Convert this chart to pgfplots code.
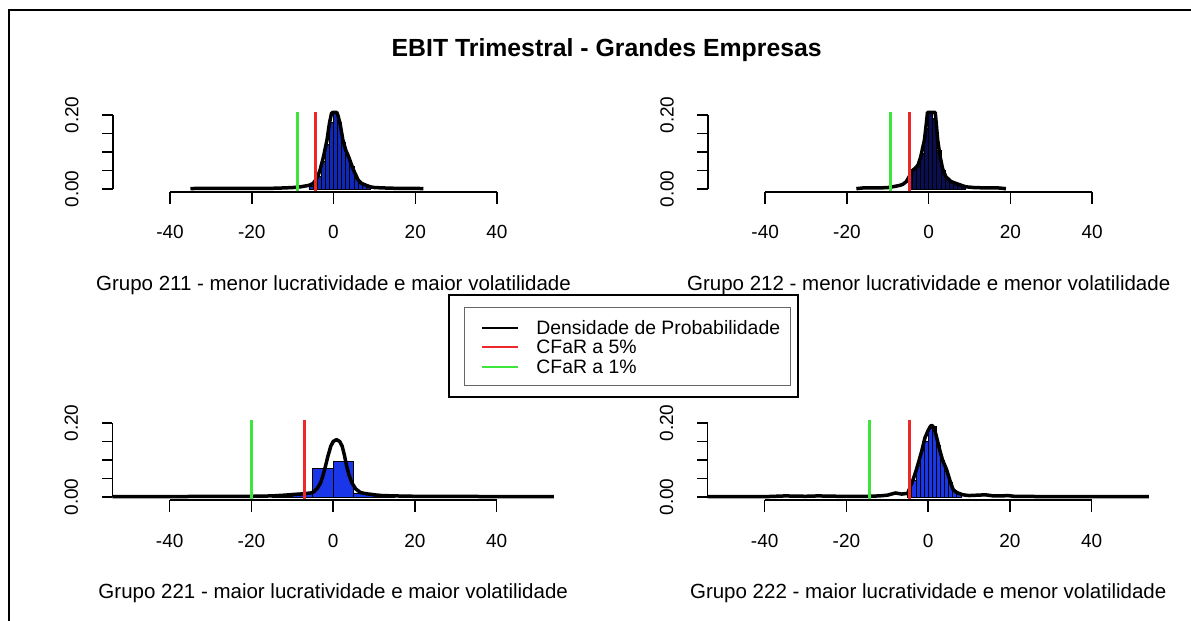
\documentclass[border=0pt]{standalone}
\usepackage{fontspec}
\setmainfont{Liberation Sans}
\usepackage{pgfplots}
\pgfplotsset{compat=1.18}
\definecolor{rred}{RGB}{238,40,40}
\definecolor{rgreen}{RGB}{60,230,60}
\definecolor{hblue}{RGB}{25,55,232}
\definecolor{hdark}{RGB}{15,40,185}
\definecolor{hnavy}{RGB}{8,14,80}
\tikzset{
  raxis/.style={line width=0.75bp, black},
  rtick/.style={font=\fontsize{9.5bp}{11bp}\selectfont, inner sep=0pt, anchor=base},
}
\pgfplotsset{
  rpanel/.style={
    scale only axis, width=220.7bp, height=40bp,
    xmin=-54, xmax=54, ymin=-0.008, ymax=0.208,
    axis lines=none, clip=false,
  },
  dens/.style={black, line width=1.75bp, line join=round, no marks},
  hist/.style={ybar interval, draw=black, line width=0.4bp},
  cfar/.style={line width=1.5bp, no marks},
}
% eixos no estilo R: x de -40 a 40, y de 0 a 0.2
\newcommand{\raxes}[1]{%
  \draw[raxis] (axis cs:-40,-0.008) -- (axis cs:40,-0.008);
  \pgfplotsinvokeforeach{-40,-20,0,20,40}{%
    \draw[raxis] (axis cs:##1,-0.008) -- ([yshift=-6bp]axis cs:##1,-0.008);
    \node[rtick] at ([yshift=-23.5bp]axis cs:##1,-0.008) {##1};
  }
  \draw[raxis] (axis cs:-54,0) -- (axis cs:-54,0.2);
  \pgfplotsinvokeforeach{0,0.05,0.1,0.15,0.2}{%
    \draw[raxis] (axis cs:-54,##1) -- ([xshift=-5.35bp]axis cs:-54,##1);
  }
  \node[rtick, rotate=90] at ([xshift=-17.25bp]axis cs:-54,0) {0.00};
  \node[rtick, rotate=90] at ([xshift=-17.25bp]axis cs:-54,0.2) {0.20};
  \node[font=\fontsize{10.25bp}{12bp}\selectfont, inner sep=0pt, anchor=base]
    at ([yshift=-49.35bp]axis cs:0,-0.008) {#1};
}
\begin{document}
\begin{tikzpicture}
\path[use as bounding box] (0,0) rectangle (595.5bp,310.5bp);
\draw[line width=1bp] (595.5bp,305.5bp) -- (4.5bp,305.5bp) -- (4.5bp,0);
\node[font=\fontsize{12.4bp}{14bp}\selectfont\bfseries, inner sep=0pt, anchor=base]
  at (303.35bp,282.15bp) {EBIT Trimestral - Grandes Empresas};

% Grupo 211
\begin{axis}[rpanel, at={(56.4bp,214.5bp)}, anchor=south west]
\addplot[hist, fill=hdark] coordinates {(-6,0.008)(-5,0.013)(-4,0.035)(-3,0.075)(-2,0.120)(-1,0.180)(0,0.207)(1,0.180)(2,0.125)(3,0.090)(4,0.060)(5,0.030)(6,0.016)(7,0.009)(8,0.005)(9,0)};
\addplot[dens] coordinates {(-35,0.001)(-33,0.002)(-30,0.002)(-25,0.002)(-20,0.002)(-15,0.002)(-12,0.003)(-10,0.004)(-8,0.006)(-6,0.010)(-5,0.015)(-4,0.030)(-3.3,0.051)(-2.5,0.085)(-1.6,0.132)(-1,0.177)(-0.5,0.204)(-0.2,0.207)(0.8,0.207)(1.1,0.198)(1.6,0.177)(2.3,0.132)(3,0.105)(3.7,0.087)(4.9,0.051)(6,0.025)(6.9,0.015)(8,0.010)(9,0.006)(10,0.004)(12,0.003)(15,0.002)(18,0.002)(20,0.002)(22,0.001)};
\addplot[cfar, rgreen] coordinates {(-8.8,-0.008)(-8.8,0.208)};
\addplot[cfar, rred] coordinates {(-4.3,-0.008)(-4.3,0.208)};
\raxes{Grupo 211 - menor lucratividade e maior volatilidade}
\end{axis}

% Grupo 212
\begin{axis}[rpanel, at={(354bp,214.5bp)}, anchor=south west]
\addplot[hist, fill=hnavy] coordinates {(-5,0.040)(-4,0.054)(-3,0.062)(-2,0.095)(-1,0.165)(0,0.207)(1,0.190)(2,0.105)(3,0.050)(4,0.030)(5,0.020)(6,0.014)(7,0.010)(8,0.006)(9,0)};
\addplot[dens] coordinates {(-17.7,0.001)(-16,0.003)(-14,0.003)(-12,0.003)(-10,0.004)(-8.8,0.006)(-7,0.010)(-6.3,0.013)(-5.5,0.020)(-4.7,0.035)(-4,0.050)(-3.3,0.056)(-2.6,0.065)(-2,0.085)(-1.5,0.110)(-1.05,0.132)(-0.6,0.175)(-0.3,0.207)(1.6,0.207)(1.9,0.170)(2.2,0.132)(2.8,0.087)(3.4,0.055)(4.2,0.033)(5.5,0.020)(6.7,0.015)(8,0.010)(9.1,0.006)(11,0.004)(14,0.003)(17,0.003)(18.9,0.001)};
\addplot[cfar, rgreen] coordinates {(-9.4,-0.008)(-9.4,0.208)};
\addplot[cfar, rred] coordinates {(-4.6,-0.008)(-4.6,0.208)};
\raxes{Grupo 212 - menor lucratividade e menor volatilidade}
\end{axis}

% Grupo 221
\begin{axis}[rpanel, at={(56.25bp,60.5bp)}, anchor=south west]
\addplot[hist, fill=hblue] coordinates {(-15,0.002)(-10,0.011)(-5,0.077)(0,0.096)(5,0.011)(10,0.002)(15,0)};
\addplot[dens] coordinates {(-54,0.001)(-40,0.001)(-30,0.002)(-20,0.002)(-15,0.003)(-12,0.005)(-9.5,0.007)(-7,0.009)(-5.5,0.011)(-4.7,0.014)(-3.8,0.025)(-3.1,0.038)(-2.5,0.058)(-1.9,0.083)(-1.3,0.110)(-0.6,0.137)(0,0.150)(0.8,0.155)(1.6,0.150)(2.2,0.137)(2.7,0.115)(3.3,0.083)(3.9,0.058)(4.6,0.038)(5.5,0.022)(6.7,0.012)(8,0.009)(10,0.006)(12,0.004)(15,0.003)(20,0.002)(30,0.002)(40,0.001)(54,0.001)};
\addplot[cfar, rgreen] coordinates {(-20,-0.008)(-20,0.208)};
\addplot[cfar, rred] coordinates {(-7.1,-0.008)(-7.1,0.208)};
\raxes{Grupo 221 - maior lucratividade e maior volatilidade}
\end{axis}

% Grupo 222
\begin{axis}[rpanel, at={(353.75bp,60.5bp)}, anchor=south west]
\addplot[hist, fill=hblue] coordinates {(-5,0.010)(-4,0.045)(-3,0.085)(-2,0.125)(-1,0.150)(0,0.185)(1,0.190)(2,0.140)(3,0.100)(4,0.070)(5,0.040)(6,0.018)(7,0.008)(8,0)};
\addplot[dens] coordinates {(-54,0.001)(-45,0.001)(-40,0.001)(-35,0.003)(-30,0.002)(-27,0.003)(-22,0.002)(-18,0.002)(-15,0.002)(-12,0.003)(-10,0.005)(-8,0.011)(-6.5,0.008)(-5,0.010)(-4.5,0.025)(-3.7,0.047)(-3,0.070)(-2.2,0.100)(-1.5,0.128)(-0.8,0.160)(0,0.180)(0.6,0.192)(1.0,0.193)(1.5,0.185)(2.2,0.155)(2.8,0.128)(3.5,0.100)(4.5,0.074)(5.3,0.045)(6.1,0.020)(7,0.012)(8.5,0.006)(10,0.004)(12,0.005)(14,0.006)(16,0.003)(18,0.003)(19.5,0.004)(21,0.002)(30,0.001)(40,0.001)(54,0.001)};
\addplot[cfar, rgreen] coordinates {(-14.4,-0.008)(-14.4,0.208)};
\addplot[cfar, rred] coordinates {(-4.7,-0.008)(-4.7,0.208)};
\raxes{Grupo 222 - maior lucratividade e menor volatilidade}
\end{axis}

% legenda
\draw[line width=1bp] (224.5bp,112bp) rectangle (399bp,163bp);
\draw[line width=0.5bp, black!60] (232bp,117.5bp) rectangle (395bp,156.5bp);
\draw[line width=1bp, black] (241bp,146.5bp) -- (259bp,146.5bp);
\draw[line width=1bp, rred] (241bp,137bp) -- (259bp,137bp);
\draw[line width=1bp, rgreen] (241bp,127bp) -- (259bp,127bp);
\begin{scope}[every node/.style={font=\fontsize{9.7bp}{11bp}\selectfont, inner sep=0pt, anchor=base west}]
\node at (268bp,143bp) {Densidade de Probabilidade};
\node at (268bp,133.5bp) {CFaR a 5\%};
\node at (268bp,123.5bp) {CFaR a 1\%};
\end{scope}
\end{tikzpicture}
\end{document}
